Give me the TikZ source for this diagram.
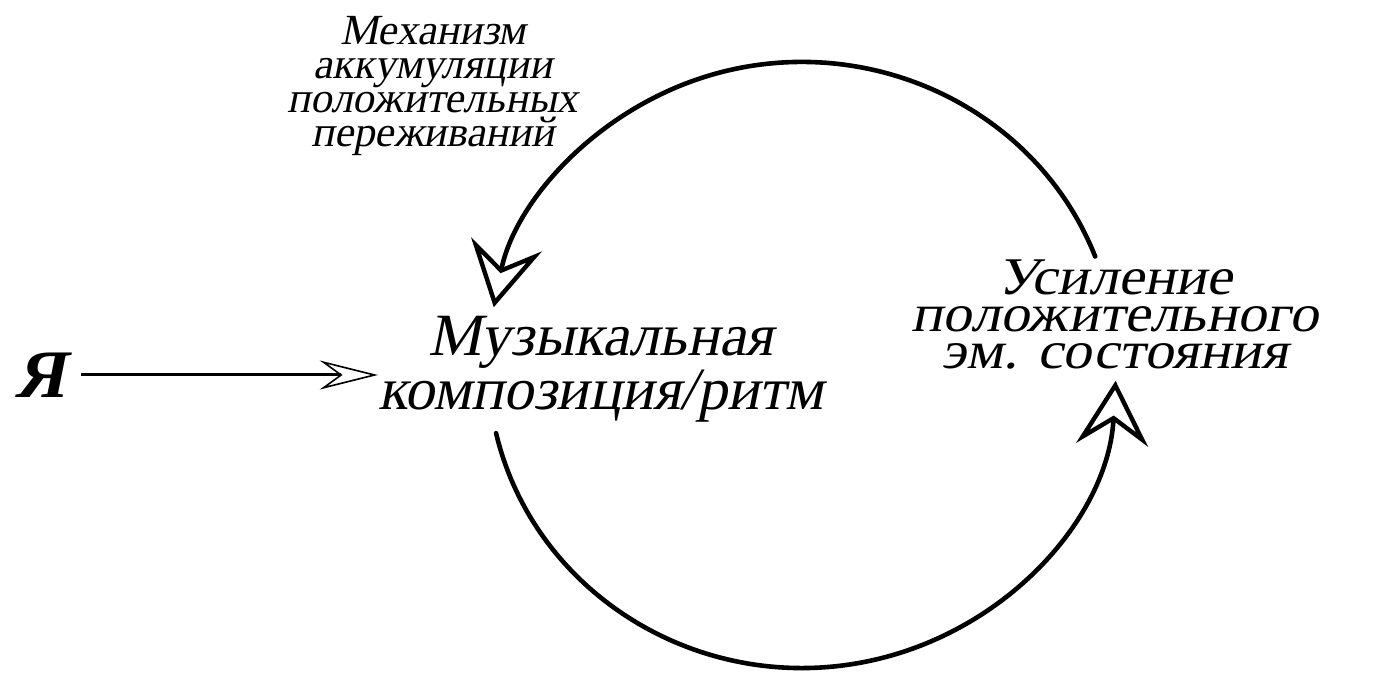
\documentclass[tikz,border=0pt]{standalone}
\usepackage{fontspec}
\setmainfont{Liberation Serif}
\newfontfamily\slanted[FakeSlant=0.2]{Liberation Serif}
\newfontfamily\slantedwide[FakeSlant=0.2,FakeStretch=1.1]{Liberation Serif}
\usetikzlibrary{arrows.meta}
\begin{document}
	\begin{tikzpicture}[x=0.5pt,y=0.5pt,
		loopline/.style={line width=2.3pt,line cap=round},
		looptip/.style={-{Stealth[open,length=32pt,width=36pt,inset=12pt,line width=2.2pt]}},
		cycletext/.style={inner sep=0pt,align=center}]
		\useasboundingbox (0,0) rectangle (1389,686);
		\coordinate (cyc) at (802,321);
		\node[cycletext,font=\slanted\fontsize{30}{21}\selectfont] (music) at (601,317) {Музыкальная\\композиция/ритм};
		\node[cycletext,font=\slantedwide\fontsize{26.5}{18.5}\selectfont] (mood) at (1115,371) {Усиление\\положительного\\эм. состояния};
		\node[cycletext,font=\slanted\fontsize{21.5}{17}\selectfont] (accum) at (433,599.5) {Механизм\\аккумуляции\\положительных\\переживаний};
		\node[inner sep=0pt,font=\slanted\bfseries\fontsize{34}{40}\selectfont] (me) at (40,311) {Я};
		\begin{scope}[loopline,looptip]
			\draw ([shift={(21:314 and 303)}]cyc) arc[start angle=21,end angle=169,x radius=314,y radius=303];
			\draw ([shift={(193:314 and 303)}]cyc) arc[start angle=193,end angle=357,x radius=314,y radius=303];
		\end{scope}
		\draw[line width=1.5pt,-{Stealth[open,length=29pt,width=14.5pt,inset=10pt,line width=0.8pt]}]
		([xshift=8pt]me.east) -- (me.east -| music.west);
	\end{tikzpicture}
\end{document}
